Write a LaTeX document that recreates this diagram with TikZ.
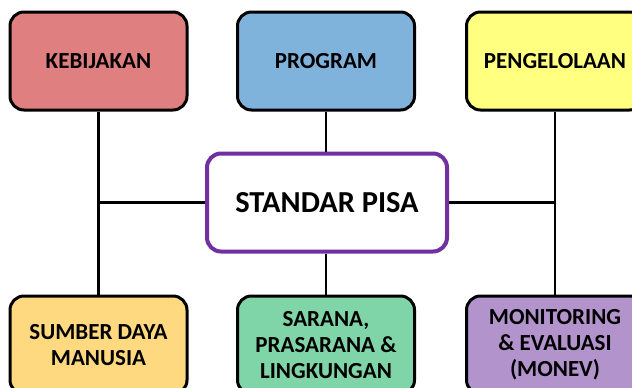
\documentclass[tikz,border=0pt]{standalone}
\usepackage{fontspec}
\setmainfont{Carlito}
\usepackage{xcolor}
\usetikzlibrary{positioning,calc}

\definecolor{kebred}{HTML}{DF7F7F}
\definecolor{progblue}{HTML}{7FB3DC}
\definecolor{pengyellow}{HTML}{FFFF80}
\definecolor{sdmorange}{HTML}{FFD980}
\definecolor{sargreen}{HTML}{80D5A8}
\definecolor{monpurple}{HTML}{B393CC}
\definecolor{pisaviolet}{HTML}{7030A0}

\begin{document}
\begin{tikzpicture}[
    x=1pt, y=-1pt,
    aspect/.style={draw, line width=3pt, rounded corners=14pt, minimum width=177pt, minimum height=98pt, align=center, font=\fontsize{23}{26}\selectfont\bfseries},
    core/.style={draw=pisaviolet, fill=white, line width=4pt, rounded corners=14pt, minimum width=240pt, minimum height=98pt, align=center, font=\fontsize{30.5}{34}\selectfont\bfseries},
    link/.style={line width=2.5pt}
]
    \useasboundingbox (0,0) rectangle (632,388);
    \clip (0,0) rectangle (632,388);

    % Centre node
    \node[core] (pisa) at (327,202.5) {STANDAR PISA};

    % Top row
    \node[aspect, fill=kebred] (kebijakan) at (98.5,61) {KEBIJAKAN};
    \node[aspect, fill=progblue] (program) at (326,61) {PROGRAM};
    \node[aspect, fill=pengyellow] (pengelolaan) at (555,61) {PENGELOLAAN};

    % Bottom row
    \node[aspect, fill=sdmorange] (sdm) at (98.5,345) {SUMBER DAYA\\MANUSIA};
    \node[aspect, fill=sargreen] (sarana) at (326,345) {SARANA,\\PRASARANA \&\\LINGKUNGAN};
    \node[aspect, fill=monpurple] (monev) at (555,345) {MONITORING\\\& EVALUASI\\(MONEV)};

    % Connectors
    \draw[link] (kebijakan.south) -- (sdm.north);
    \draw[link] (pengelolaan.south) -- (monev.north);
    \draw[link] (program.south) -- (program.south |- pisa.north);
    \draw[link] (sarana.north |- pisa.south) -- (sarana.north);
    \draw[link] (pisa.west) -- (pisa.west -| kebijakan.south);
    \draw[link] (pisa.east) -- (pisa.east -| pengelolaan.south);
\end{tikzpicture}
\end{document}
